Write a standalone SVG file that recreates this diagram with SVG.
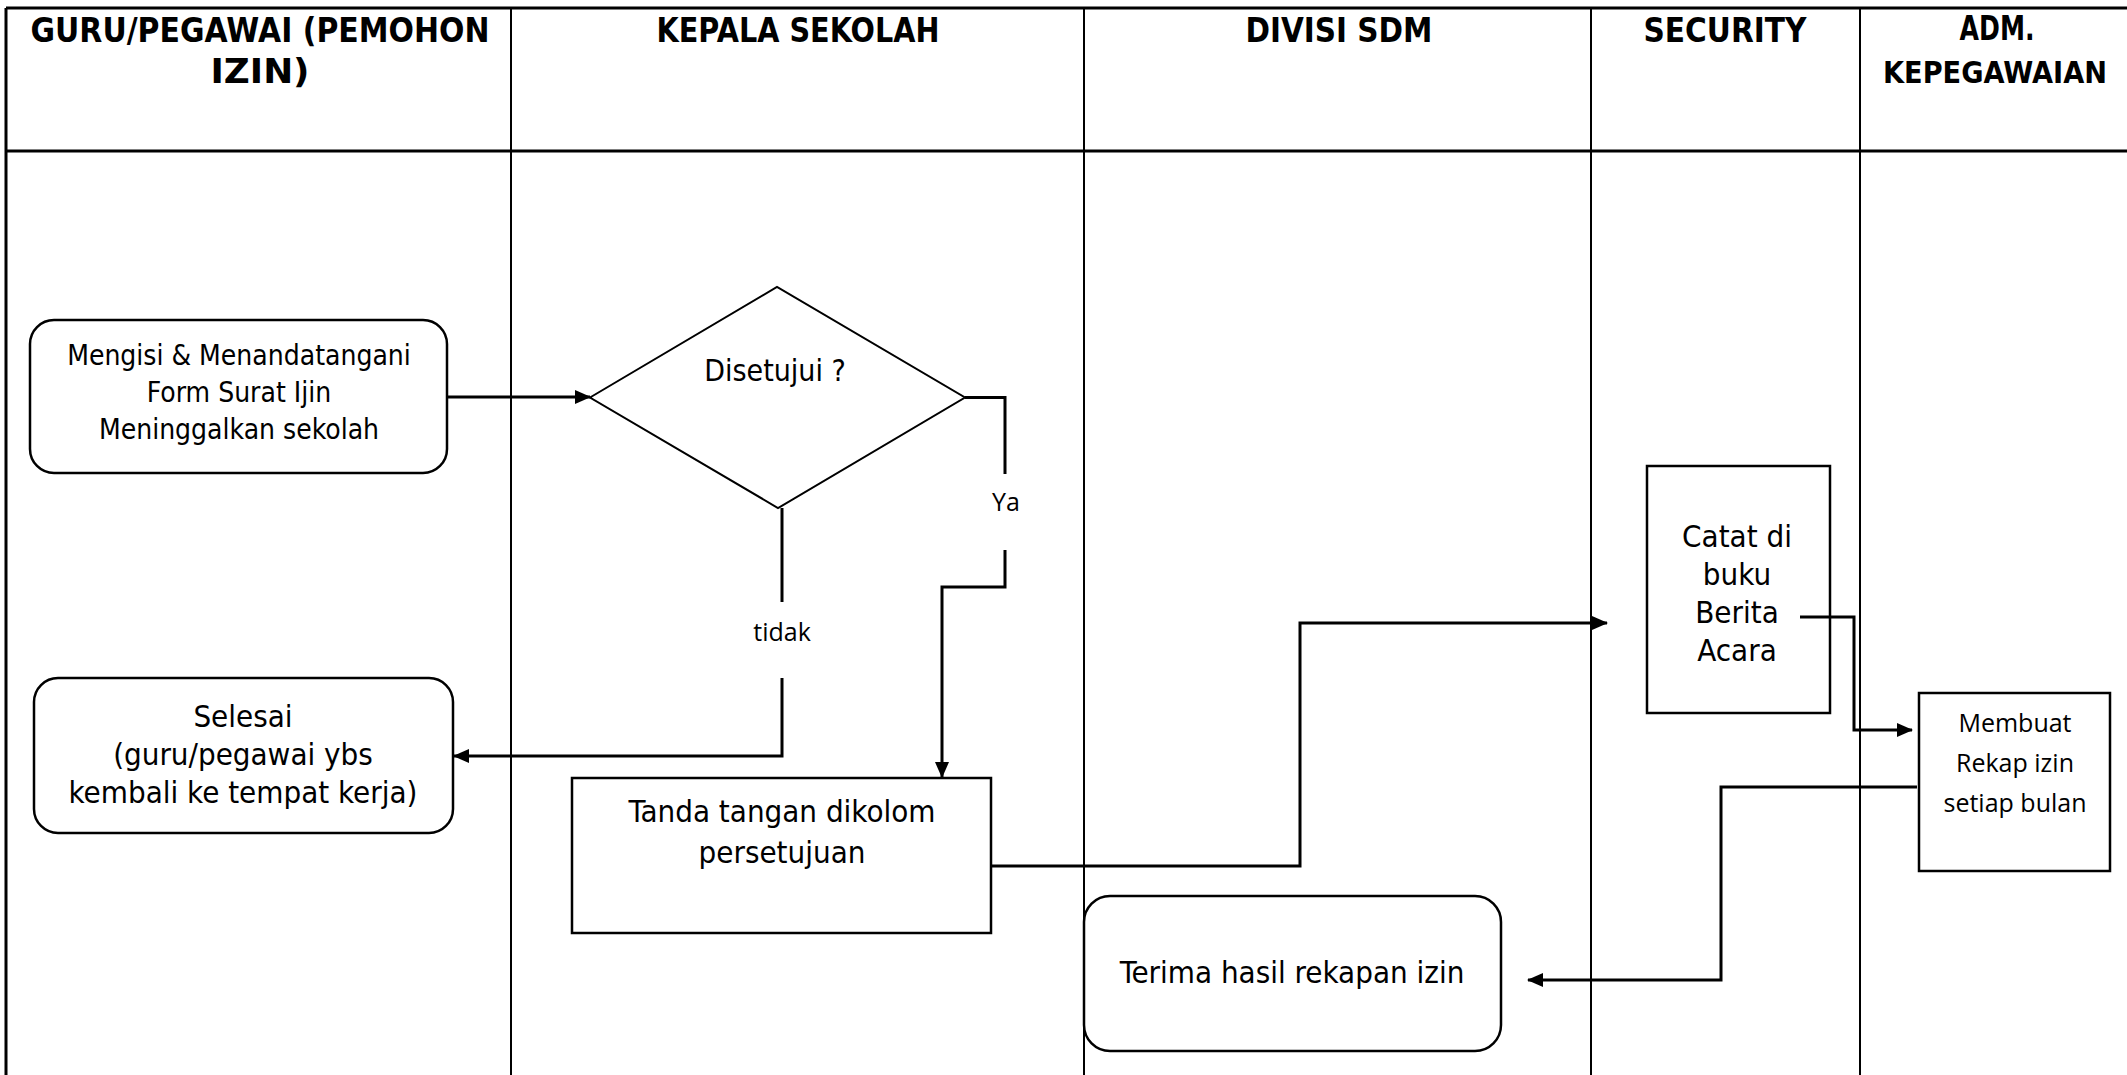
<svg xmlns="http://www.w3.org/2000/svg" width="2127" height="1075" viewBox="0 0 2127 1075">
<defs>
<style>
.bg{fill:#fff}
.grid{stroke:#000;stroke-width:2;fill:none}
.gridb{stroke:#000;stroke-width:3;fill:none}
.hdr{font-family:"DejaVu Sans",sans-serif;font-weight:bold;font-size:33px;text-anchor:middle;fill:#000}
.txt{font-family:"DejaVu Sans Condensed","DejaVu Sans",sans-serif;font-stretch:condensed;font-size:31px;text-anchor:middle;fill:#000}
.lbl{font-family:"Open Sans",sans-serif;font-size:25px;text-anchor:middle;fill:#000}
.box{fill:#fff;stroke:#000;stroke-width:2.5}
.dia{fill:#fff;stroke:#000;stroke-width:2}
.con{fill:none;stroke:#000;stroke-width:3}
</style>
<marker id="arr" markerUnits="userSpaceOnUse" markerWidth="16" markerHeight="14" refX="15" refY="7" orient="auto">
<path d="M0,0 L16,7 L0,14 Z" fill="#000"/>
</marker>
</defs>
<rect class="bg" x="0" y="0" width="2127" height="1075"/>
<g id="lanes">
<line class="gridb" x1="6" y1="8" x2="2127" y2="8"/>
<line class="gridb" x1="6" y1="151" x2="2127" y2="151"/>
<line class="gridb" x1="6" y1="8" x2="6" y2="1075"/>
<line class="grid" x1="511" y1="8" x2="511" y2="1075"/>
<line class="grid" x1="1084" y1="8" x2="1084" y2="1075"/>
<line class="grid" x1="1591" y1="8" x2="1591" y2="1075"/>
<line class="grid" x1="1860" y1="8" x2="1860" y2="1075"/>
<text class="hdr" x="260" y="42" textLength="459" lengthAdjust="spacingAndGlyphs">GURU/PEGAWAI (PEMOHON</text>
<text class="hdr" x="260" y="83" textLength="99" lengthAdjust="spacingAndGlyphs">IZIN)</text>
<text class="hdr" x="798" y="42" textLength="283" lengthAdjust="spacingAndGlyphs">KEPALA SEKOLAH</text>
<text class="hdr" x="1339" y="42" textLength="187" lengthAdjust="spacingAndGlyphs">DIVISI SDM</text>
<text class="hdr" x="1725" y="42" textLength="163" lengthAdjust="spacingAndGlyphs">SECURITY</text>
<text class="hdr" x="1997" y="40" textLength="75" lengthAdjust="spacingAndGlyphs">ADM.</text>
<text class="hdr" style="font-size:30px" x="1995" y="83" textLength="224" lengthAdjust="spacingAndGlyphs">KEPEGAWAIAN</text>
</g>
<g id="n-mengisi">
<rect class="box" x="30" y="320" width="417" height="153" rx="24"/>
<text class="txt" style="font-size:28px" x="239" y="365">Mengisi &amp; Menandatangani</text>
<text class="txt" style="font-size:28px" x="239" y="402">Form Surat Ijin</text>
<text class="txt" style="font-size:28px" x="239" y="439">Meninggalkan sekolah</text>
</g>
<g id="n-disetujui">
<polygon class="dia" points="590,397.5 777,287 965,397.5 778,508"/>
<text class="txt" style="font-size:30px" x="775" y="381">Disetujui ?</text>
</g>
<g id="n-selesai">
<rect class="box" x="34" y="678" width="419" height="155" rx="24"/>
<text class="txt" x="243" y="727">Selesai</text>
<text class="txt" x="243" y="765">(guru/pegawai ybs</text>
<text class="txt" x="243" y="803">kembali ke tempat kerja)</text>
</g>
<g id="n-tanda">
<rect class="box" x="572" y="778" width="419" height="155"/>
<text class="txt" x="782" y="822">Tanda tangan dikolom</text>
<text class="txt" x="782" y="863">persetujuan</text>
</g>
<g id="n-catat">
<rect class="box" x="1647" y="466" width="183" height="247"/>
<text class="txt" x="1737" y="547">Catat di</text>
<text class="txt" x="1737" y="585">buku</text>
<text class="txt" x="1737" y="623">Berita</text>
<text class="txt" x="1737" y="661">Acara</text>
</g>
<g id="n-membuat">
<rect class="box" x="1919" y="693" width="191" height="178"/>
<text class="lbl" x="2015" y="732">Membuat</text>
<text class="lbl" x="2015" y="772">Rekap izin</text>
<text class="lbl" x="2015" y="812">setiap bulan</text>
</g>
<g id="n-terima">
<rect class="box" x="1084" y="896" width="417" height="155" rx="26"/>
<text class="txt" x="1292" y="983">Terima hasil rekapan izin</text>
</g>
<g id="connectors">
<path class="con" d="M448,397 H590" marker-end="url(#arr)"/>
<path class="con" d="M965,397.5 H1005 V474"/>
<path class="con" d="M1005,550 V587 H942 V777" marker-end="url(#arr)"/>
<path class="con" d="M782,508 V602"/>
<path class="con" d="M782,678 V756 H454" marker-end="url(#arr)"/>
<path class="con" d="M991,866 H1300 V623 H1607" marker-end="url(#arr)"/>
<path class="con" d="M1800,617 H1854 V730 H1912" marker-end="url(#arr)"/>
<path class="con" d="M1917,787 H1721 V980 H1528" marker-end="url(#arr)"/>
<text class="lbl" x="1006" y="511">Ya</text>
<text class="lbl" x="782" y="641">tidak</text>
</g>
</svg>
